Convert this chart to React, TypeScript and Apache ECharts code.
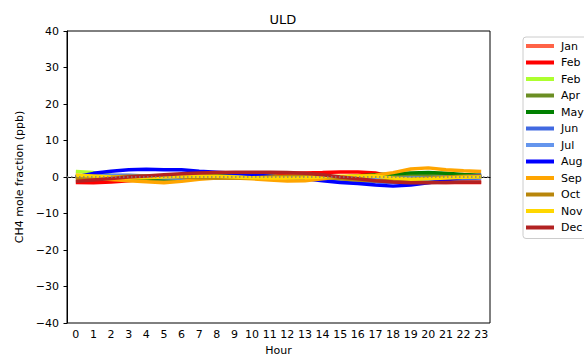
import React, { useEffect, useRef } from "react";
import * as echarts from "echarts";

const HOURS = Array.from({ length: 24 }, (_, i) => String(i));
const LABELS = ["Jan", "Feb", "Feb", "Apr", "May", "Jun", "Jul", "Aug", "Sep", "Oct", "Nov", "Dec"];
const COLORS = ["#ff6347", "#ff0000", "#adff2f", "#6b8e23", "#008000", "#4169e1", "#6495ed", "#0000ff", "#ffa500", "#b8860b", "#ffd700", "#b22222"];

const JAN = [0.5, 0.3, 0, -0.2, -0.3, -0.3, -0.2, 0, 0.2, 0.3, 0.3, 0.2, 0, -0.2, -0.3, -0.4, -0.3, -0.2, 0, 0.1, 0.2, 0.2, 0.1, 0];
const FEB = [-1.5, -1.6, -1.4, -1, -0.5, 0, 0.2, 0.3, 0.4, 0.5, 0.6, 0.8, 1, 1.1, 1.2, 1.4, 1.4, 1.1, 0, -1, -1.4, -1.5, -1.5, -1.5];
const FEB2 = [1.5, 1.2, 0.5, 0, -0.3, -0.5, -0.3, 0, 0.2, 0.3, 0.3, 0.2, 0, -0.2, -0.3, -0.3, -0.2, 0, 0.2, 0.3, 0.3, 0.2, 0.1, 0];
const APR = [0.3, 0.2, 0, -0.5, -1, -0.8, -0.5, -0.3, 0, 0.2, 0.3, 0.2, 0, -0.2, -0.3, -0.5, -0.5, -0.3, 0, 0.3, 0.5, 0.3, 0.2, 0];
const MAY = [0, 0, -0.3, -0.5, -0.5, -0.3, 0, 0.2, 0.3, 0.3, 0.2, 0, -0.2, -0.3, -0.2, 0, 0.3, 0.6, 0.9, 1.1, 1.2, 1.0, 0.7, 0.5];
const JUN = [0, 0.3, 0.5, 0.5, 0.3, 0, -0.2, -0.3, -0.3, -0.2, 0, 0, -0.3, -0.5, -0.8, -1, -1.2, -1.3, -1.5, -1.5, -1.2, -0.8, -0.5, -0.3];
const JUL = [0.2, 0.3, 0.3, 0.2, 0, -0.2, -0.3, -0.2, 0, 0.2, 0.2, 0, -0.2, -0.3, -0.4, -0.5, -0.6, -0.6, -0.5, -0.3, -0.2, 0, 0.1, 0.2];
const AUG = [0, 1, 1.6, 2, 2.1, 2, 2, 1.6, 1.3, 1, 0.6, 0.2, -0.2, -0.5, -1, -1.5, -1.8, -2.2, -2.5, -2.2, -1.6, -0.8, 0, 0.5];
const SEP = [0, -0.3, -0.7, -1, -1.3, -1.6, -1.2, -0.6, -0.3, -0.3, -0.5, -0.8, -1.1, -1, -0.5, 0, 0.2, 0.5, 1.2, 2.2, 2.5, 2.0, 1.7, 1.5];
const OCT = [-0.5, -0.3, 0, 0.2, 0.3, 0.2, 0, -0.2, -0.3, -0.3, -0.2, 0, 0.2, 0.3, 0, -0.5, -0.8, -1, -1, -0.7, -0.3, 0, 0.2, 0.3];
const NOV = [0.5, 0.3, 0, -0.2, -0.2, 0, 0.2, 0.3, 0.2, 0, -0.2, -0.3, -0.3, -0.2, 0, 0.2, 0.3, 0.2, -0.3, -0.6, -0.5, -0.3, -0.1, 0];
const DEC = [-1.2, -0.8, -0.4, 0, 0.3, 0.6, 0.9, 1.1, 1.2, 1.3, 1.3, 1.3, 1.2, 1, 0.6, 0, -0.5, -1, -1.4, -1.6, -1.6, -1.5, -1.4, -1.4];

const SERIES_DATA = [JAN, FEB, FEB2, APR, MAY, JUN, JUL, AUG, SEP, OCT, NOV, DEC];
const Y_TICKS_MIN = -40;
const Y_TICKS_MAX = 40;

const FONT = "DejaVu Sans";

export default function App() {
  const ref = useRef<HTMLDivElement>(null);
  useEffect(() => {
    if (!ref.current) return;
    const chart = echarts.init(ref.current, null, { renderer: "svg" });
    const series: any[] = SERIES_DATA.map((d, i) => ({
      name: "m" + i,
      type: "line",
      data: d,
      showSymbol: false,
      symbol: "none",
      lineStyle: { color: COLORS[i], width: 3.5 },
      itemStyle: { color: COLORS[i] },
      z: 2 + i * 0.01,
    }));
    series[series.length - 1].markLine = {
      silent: true,
      symbol: "none",
      label: { show: false },
      lineStyle: { color: "#808080", type: [1.5, 2.5], width: 1.5 },
      data: [{ yAxis: 0 }],
      z: 10,
    };
    chart.setOption({
      animation: false,
      textStyle: { fontFamily: FONT },
      title: {
        text: "ULD",
        left: 278,
        top: 8,
        textAlign: "center",
        textStyle: { fontFamily: FONT, fontSize: 13, fontWeight: "normal", color: "#000" },
      },
      grid: {
        left: 67,
        right: 94,
        top: 31,
        bottom: 33,
        outerBoundsMode: "none",
        containLabel: false,
        show: true,
        borderColor: "#000",
        borderWidth: 1,
        backgroundColor: "transparent",
      },
      legend: {
        orient: "vertical",
        left: 523,
        top: 37,
        padding: [3, 20, 5, 3],
        icon: "rect",
        itemWidth: 28,
        itemHeight: 4,
        itemGap: 4.5,
        borderColor: "#cccccc",
        borderWidth: 1,
        borderRadius: 3,
        data: SERIES_DATA.map((_, i) => "m" + i),
        formatter: (name: string) => LABELS[Number(name.slice(1))],
        textStyle: { fontFamily: FONT, fontSize: 11, color: "#000", lineHeight: 12, padding: [0, 0, 0, 2] },
      },
      xAxis: {
        type: "category",
        data: HOURS,
        boundaryGap: true,
        name: "Hour",
        nameLocation: "middle",
        nameGap: 22,
        nameTextStyle: { fontFamily: FONT, fontSize: 11, color: "#000" },
        axisLine: { lineStyle: { color: "#000", width: 1 } },
        axisTick: { alignWithLabel: true, interval: 0, length: 3.5, lineStyle: { color: "#000" } },
        axisLabel: { interval: 0, margin: 6, fontFamily: FONT, fontSize: 11, color: "#000" },
        splitLine: { show: false },
      },
      yAxis: {
        type: "value",
        min: Y_TICKS_MIN,
        max: Y_TICKS_MAX,
        interval: 10,
        name: "CH4 mole fraction (ppb)",
        nameLocation: "middle",
        nameGap: 35,
        nameTextStyle: { fontFamily: FONT, fontSize: 11, color: "#000" },
        axisLine: { show: true, lineStyle: { color: "#000", width: 1 } },
        axisTick: { show: true, length: 3.5, lineStyle: { color: "#000" } },
        axisLabel: {
          margin: 8,
          fontFamily: FONT,
          fontSize: 11,
          color: "#000",
          formatter: (v: number) => String(v).replace("-", "\u2212"),
        },
        splitLine: { show: false },
      },
      series,
    });
    return () => chart.dispose();
  }, []);
  return <div ref={ref} style={{ width: 584, height: 356, position: "absolute", left: 0, top: 0 }} />;
}
